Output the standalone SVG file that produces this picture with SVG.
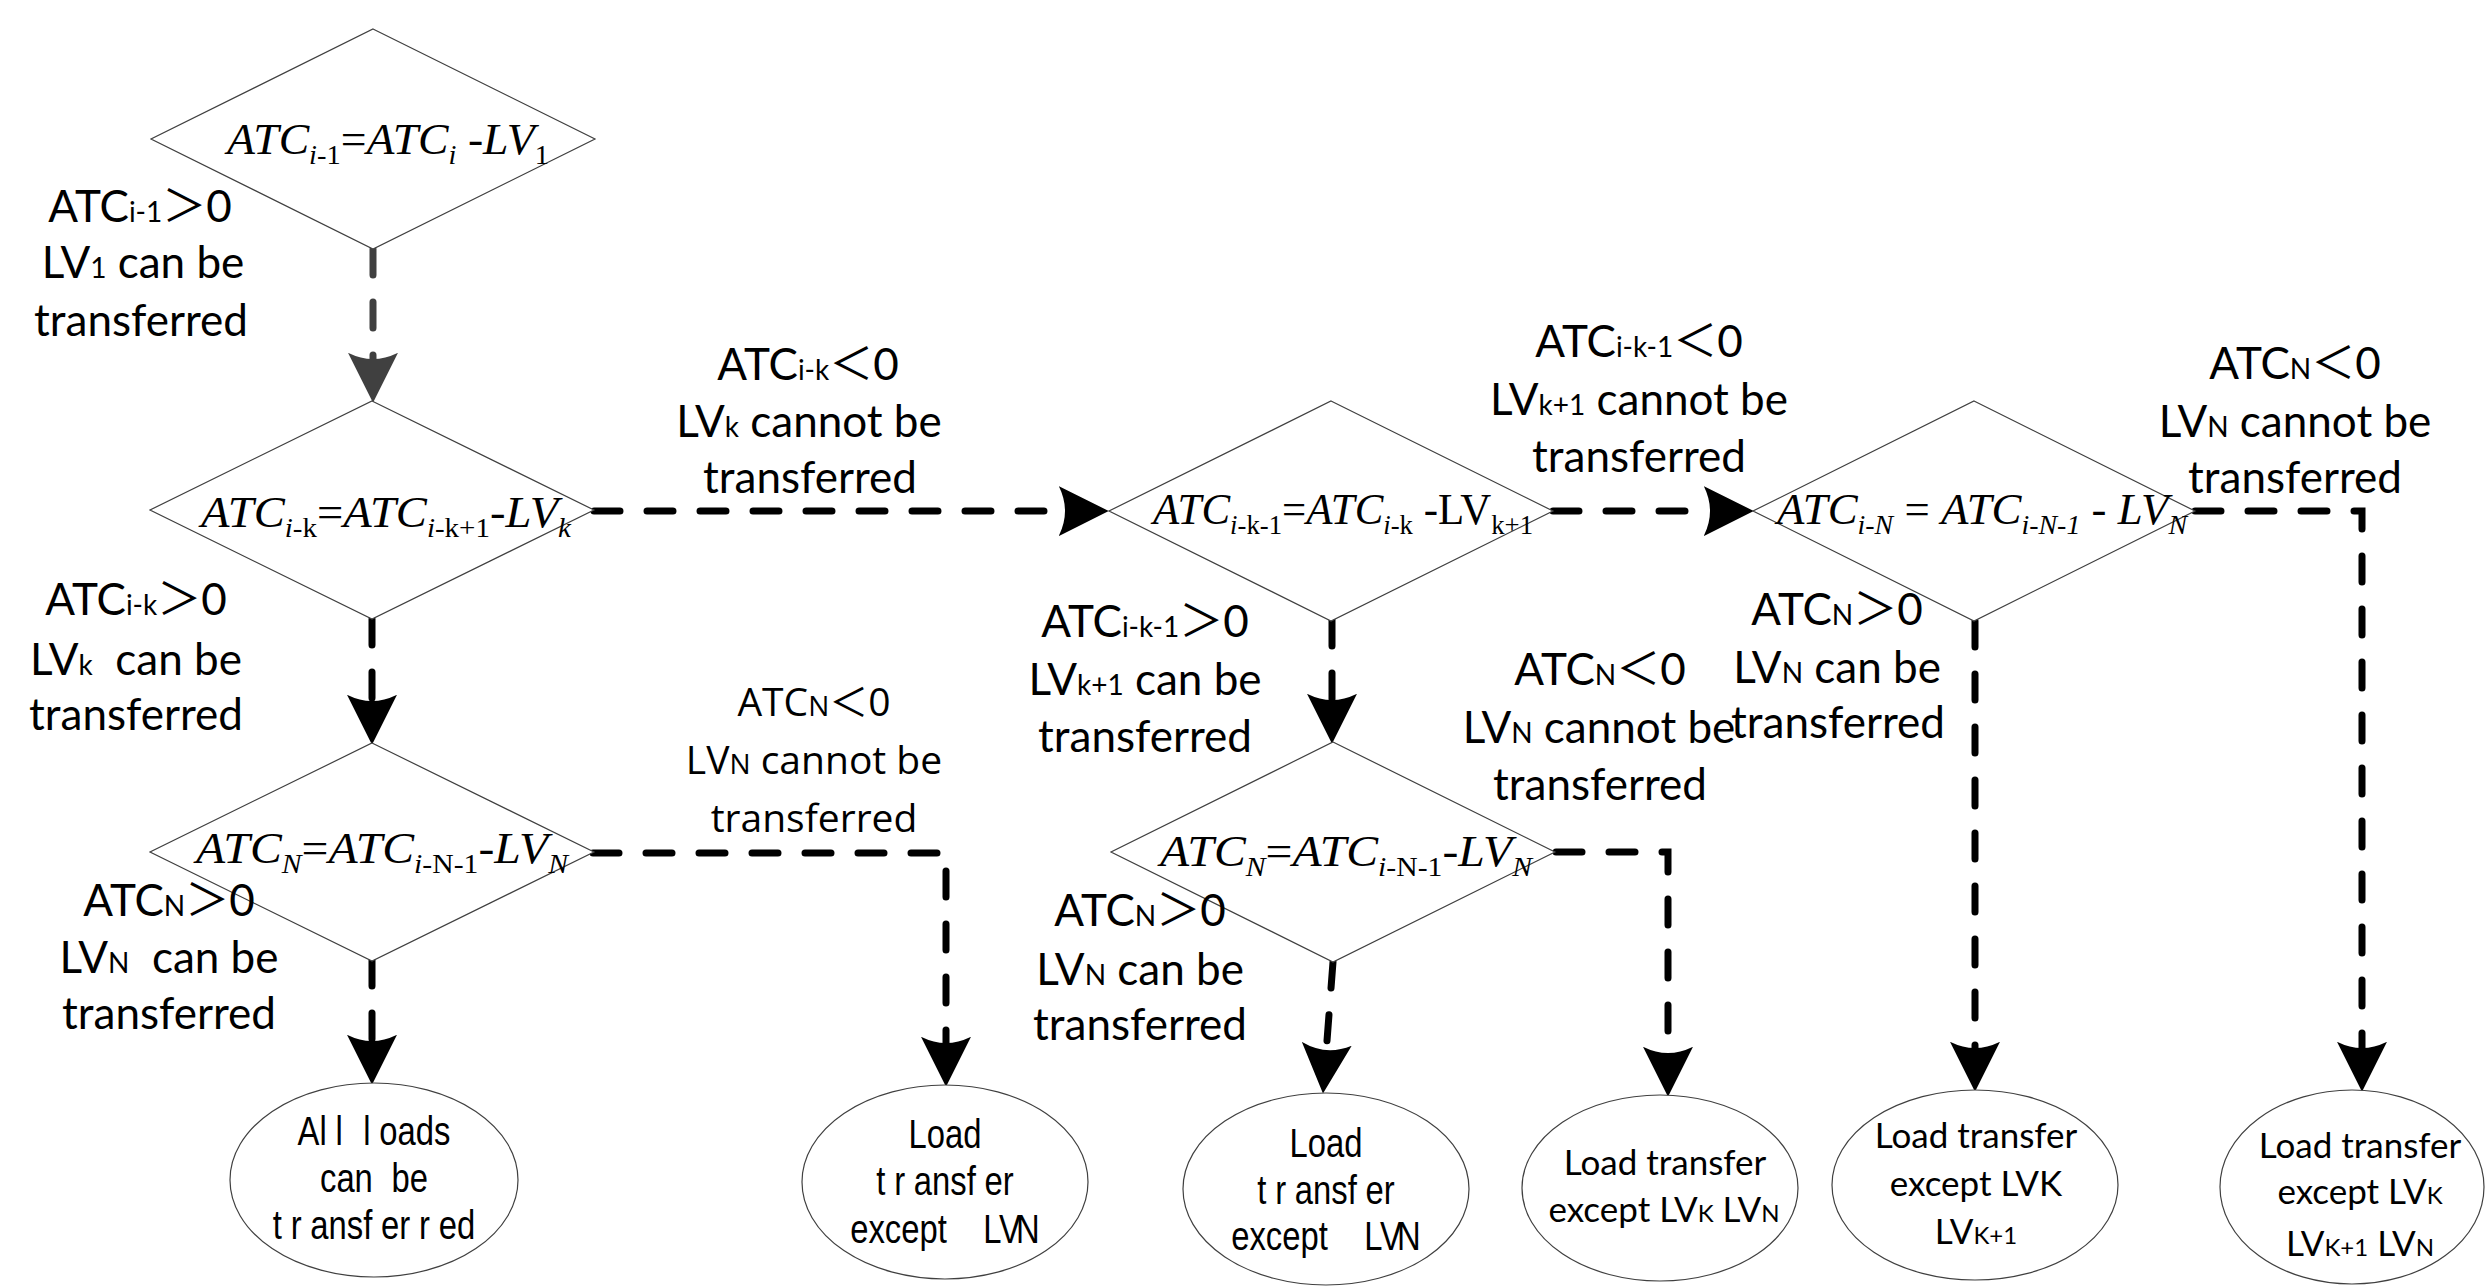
<svg xmlns="http://www.w3.org/2000/svg" width="2492" height="1286" viewBox="0 0 2492 1286">
<style>
.dia{fill:#fff;stroke:#404040;stroke-width:1.2}
.ell{fill:#fff;stroke:#404040;stroke-width:1.2}
.f{font-family:'Liberation Serif',serif;font-style:italic;font-size:45px;text-anchor:middle;fill:#000;white-space:pre}
.fs{font-size:28px}
.r{font-style:normal}
.l{font-family:Lato,'Noto Sans CJK SC',sans-serif;font-size:44px;text-anchor:middle;white-space:pre;fill:#000}
.o{font-family:'Open Sans','Noto Sans CJK SC',sans-serif;font-size:39px;text-anchor:middle;white-space:pre;fill:#000}
.ls{font-size:28px}
.cj{font-family:'Noto Sans CJK SC',sans-serif}
.n{font-family:'Liberation Sans',sans-serif;font-size:41px;text-anchor:middle;white-space:pre;fill:#000}
.c{font-family:Lato,sans-serif;font-size:35px;text-anchor:middle;white-space:pre;fill:#000}
.cs{font-size:24px}
.con{fill:none;stroke:#000;stroke-width:7;stroke-linecap:round;stroke-dasharray:26 27}
.gray{stroke:#404040}
</style>
<defs>
<marker id="ah" markerUnits="userSpaceOnUse" markerWidth="50" markerHeight="50" viewBox="0 0 48 48" refX="6" refY="24" orient="auto"><path d="M0,0 L48,24 L0,48 Q12,24 0,0 Z" fill="#000"/></marker>
<marker id="ahg" markerUnits="userSpaceOnUse" markerWidth="50" markerHeight="50" viewBox="0 0 48 48" refX="6" refY="24" orient="auto"><path d="M0,0 L48,24 L0,48 Q12,24 0,0 Z" fill="#404040"/></marker>
</defs>
<rect width="2492" height="1286" fill="#fff"/>

<g id="connectors">
<path id="c1" class="con gray" d="M373,249 V359" marker-end="url(#ahg)"/>
<path id="c2" class="con" d="M372,619 V701" marker-end="url(#ah)"/>
<path id="c3" class="con" d="M372,960 V1041" marker-end="url(#ah)"/>
<path id="c4" class="con" d="M594,511 H1065" marker-end="url(#ah)"/>
<path id="c5" class="con" d="M593,853 H946 V1043" marker-end="url(#ah)"/>
<path id="c6" class="con" d="M1332,620 V700" marker-end="url(#ah)"/>
<path id="c7" class="con" d="M1553,511 H1710" marker-end="url(#ah)"/>
<path id="c8" class="con" d="M1333,962 L1326.3,1050" marker-end="url(#ah)"/>
<path id="c9" class="con" d="M1556,852 H1668 V1053" marker-end="url(#ah)"/>
<path id="c10" class="con" d="M1975,621 V1048" marker-end="url(#ah)"/>
<path id="c11" class="con" d="M2195,511 H2362 V1048" marker-end="url(#ah)"/>
</g>

<g id="d1">
<polygon class="dia" points="373,29 595,139 373,249 151,139"/>
<text class="f" x="388" y="154" textLength="322" lengthAdjust="spacingAndGlyphs">ATC<tspan class="fs" dy="10">i</tspan><tspan class="fs r">-1</tspan><tspan class="r" dy="-10">=</tspan>ATC<tspan class="fs" dy="10">i</tspan><tspan class="r" dy="-10"> -</tspan>LV<tspan class="fs r" dy="10">1</tspan></text>
</g>
<g id="d2">
<polygon class="dia" points="372,401 594,510 372,619 150,510"/>
<text class="f" x="386" y="527" textLength="370" lengthAdjust="spacingAndGlyphs">ATC<tspan class="fs" dy="10">i</tspan><tspan class="fs r">-k</tspan><tspan class="r" dy="-10">=</tspan>ATC<tspan class="fs" dy="10">i</tspan><tspan class="fs r">-k+1</tspan><tspan class="r" dy="-10">-</tspan>LV<tspan class="fs" dy="10">k</tspan></text>
</g>
<g id="d3">
<polygon class="dia" points="372,743 594,852 372,961 150,852"/>
<text class="f" x="382" y="863" textLength="372" lengthAdjust="spacingAndGlyphs">ATC<tspan class="fs" dy="10">N</tspan><tspan class="r" dy="-10">=</tspan>ATC<tspan class="fs" dy="10">i</tspan><tspan class="fs r">-N-1</tspan><tspan class="r" dy="-10">-</tspan>LV<tspan class="fs" dy="10">N</tspan></text>
</g>
<g id="d4">
<polygon class="dia" points="1331,401 1553,511 1331,621 1109,511"/>
<text class="f" x="1343" y="524" textLength="380" lengthAdjust="spacingAndGlyphs">ATC<tspan class="fs" dy="10">i</tspan><tspan class="fs r">-k-1</tspan><tspan class="r" dy="-10">=</tspan>ATC<tspan class="fs" dy="10">i</tspan><tspan class="fs r">-k</tspan><tspan class="r" dy="-10"> -LV</tspan><tspan class="fs r" dy="10">k+1</tspan></text>
</g>
<g id="d5">
<polygon class="dia" points="1974,401 2195,511 1974,621 1753,511"/>
<text class="f" x="1982" y="524" textLength="410" lengthAdjust="spacingAndGlyphs">ATC<tspan class="fs" dy="10">i-N</tspan><tspan class="r" dy="-10"> = </tspan>ATC<tspan class="fs" dy="10">i-N-1</tspan><tspan class="r" dy="-10"> - </tspan>LV<tspan class="fs" dy="10">N</tspan></text>
</g>
<g id="d6">
<polygon class="dia" points="1333,742 1555,852 1333,962 1111,852"/>
<text class="f" x="1346" y="866" textLength="372" lengthAdjust="spacingAndGlyphs">ATC<tspan class="fs" dy="10">N</tspan><tspan class="r" dy="-10">=</tspan>ATC<tspan class="fs" dy="10">i</tspan><tspan class="fs r">-N-1</tspan><tspan class="r" dy="-10">-</tspan>LV<tspan class="fs" dy="10">N</tspan></text>
</g>

<g id="e1">
<ellipse class="ell" cx="374" cy="1180" rx="144" ry="97"/>
<g transform="translate(374,0) scale(0.8,1)">
<text class="n" x="0" y="1145" dx="0 0 11 0 14 11 0 0 0">All loads</text>
<text class="n" x="0" y="1192" dx="0 0 0 0 12 0">can be</text>
<text class="n" x="0" y="1239" dx="0 11 11 0 0 0 11 0 11 11 0">transferred</text>
</g>
</g>
<g id="e2">
<ellipse class="ell" cx="945" cy="1182" rx="143" ry="97"/>
<g transform="translate(945,0) scale(0.8,1)">
<text class="n" x="0" y="1148">Load</text>
<text class="n" x="0" y="1195" dx="0 11 11 0 0 0 11 0">transfer</text>
<text class="n" x="0" y="1243">except    LV<tspan dx="-6">N</tspan></text>
</g>
</g>
<g id="e3">
<ellipse class="ell" cx="1326" cy="1189" rx="143" ry="96"/>
<g transform="translate(1326,0) scale(0.8,1)">
<text class="n" x="0" y="1157">Load</text>
<text class="n" x="0" y="1204" dx="0 11 11 0 0 0 11 0">transfer</text>
<text class="n" x="0" y="1250">except    LV<tspan dx="-6">N</tspan></text>
</g>
</g>
<g id="e4">
<ellipse class="ell" cx="1660" cy="1188" rx="138" ry="93"/>
<text class="c" x="1665" y="1175">Load transfer</text>
<text class="c" x="1664" y="1222">except LV<tspan class="cs">K</tspan> LV<tspan class="cs">N</tspan></text>
</g>
<g id="e5">
<ellipse class="ell" cx="1975" cy="1185" rx="143" ry="95"/>
<text class="c" x="1976" y="1148">Load transfer</text>
<text class="c" x="1976" y="1196">except LVK</text>
<text class="c" x="1976" y="1244">LV<tspan class="cs">K+1</tspan></text>
</g>
<g id="e6">
<ellipse class="ell" cx="2352" cy="1187" rx="132" ry="97"/>
<text class="c" x="2360" y="1158">Load transfer</text>
<text class="c" x="2360" y="1204">except LV<tspan class="cs">K</tspan></text>
<text class="c" x="2360" y="1256">LV<tspan class="cs">K+1</tspan> LV<tspan class="cs">N</tspan></text>
</g>

<g id="labels">
<text class="l" x="140" y="222">ATC<tspan class="ls">i-1</tspan><tspan class="cj">＞</tspan>0</text>
<text class="l" x="143" y="278">LV<tspan class="ls">1</tspan> can be</text>
<text class="l" x="141" y="336">transferred</text>

<text class="l" x="136" y="615">ATC<tspan class="ls">i-k</tspan><tspan class="cj">＞</tspan>0</text>
<text class="l" x="136" y="675">LV<tspan class="ls">k</tspan>  can be</text>
<text class="l" x="136" y="730">transferred</text>

<text class="l" x="169" y="916">ATC<tspan class="ls">N</tspan><tspan class="cj">＞</tspan>0</text>
<text class="l" x="169" y="973">LV<tspan class="ls">N</tspan>  can be</text>
<text class="l" x="169" y="1029">transferred</text>

<text class="l" x="808" y="380">ATC<tspan class="ls">i-k</tspan><tspan class="cj">＜</tspan>0</text>
<text class="l" x="809" y="437">LV<tspan class="ls">k</tspan> cannot be</text>
<text class="l" x="810" y="493">transferred</text>

<text class="l" x="1639" y="357">ATC<tspan class="ls">i-k-1</tspan><tspan class="cj">＜</tspan>0</text>
<text class="l" x="1639" y="415">LV<tspan class="ls">k+1</tspan> cannot be</text>
<text class="l" x="1639" y="472">transferred</text>

<text class="l" x="2295" y="379">ATC<tspan class="ls">N</tspan><tspan class="cj">＜</tspan>0</text>
<text class="l" x="2295" y="437">LV<tspan class="ls">N</tspan> cannot be</text>
<text class="l" x="2295" y="493">transferred</text>

<text class="l" x="1145" y="637">ATC<tspan class="ls">i-k-1</tspan><tspan class="cj">＞</tspan>0</text>
<text class="l" x="1145" y="695">LV<tspan class="ls">k+1</tspan> can be</text>
<text class="l" x="1145" y="752">transferred</text>

<text class="o" x="814" y="716">ATC<tspan class="ls">N</tspan><tspan class="cj">＜</tspan>0</text>
<text class="o" x="814" y="774">LV<tspan class="ls">N</tspan> cannot be</text>
<text class="o" x="814" y="832">transferred</text>

<text class="l" x="1140" y="926">ATC<tspan class="ls">N</tspan><tspan class="cj">＞</tspan>0</text>
<text class="l" x="1140" y="985">LV<tspan class="ls">N</tspan> can be</text>
<text class="l" x="1140" y="1040">transferred</text>

<text class="l" x="1600" y="685">ATC<tspan class="ls">N</tspan><tspan class="cj">＜</tspan>0</text>
<text class="l" x="1599" y="743">LV<tspan class="ls">N</tspan> cannot be</text>
<text class="l" x="1600" y="800">transferred</text>

<text class="l" x="1837" y="625">ATC<tspan class="ls">N</tspan><tspan class="cj">＞</tspan>0</text>
<text class="l" x="1837" y="683">LV<tspan class="ls">N</tspan> can be</text>
<text class="l" x="1838" y="738">transferred</text>
</g>
</svg>
